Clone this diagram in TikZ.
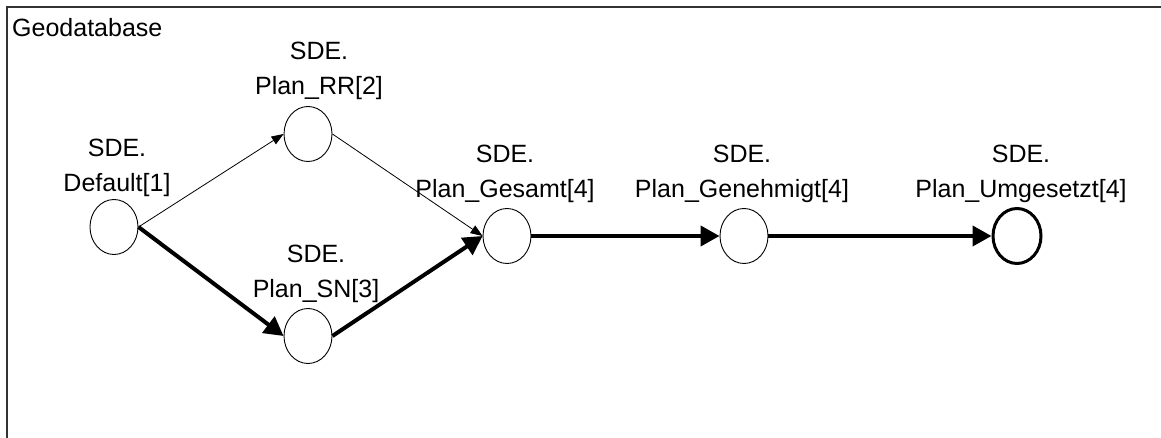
\documentclass[tikz,border=0pt]{standalone}
\usepackage{fontspec}
\setmainfont{Liberation Sans}
\usetikzlibrary{arrows.meta,shapes.geometric}
\begin{document}
\begin{tikzpicture}[x=1pt,y=-1pt,
  every node/.style={font=\fontsize{25}{35}\selectfont},
  version/.style={draw,ellipse,minimum width=48pt,minimum height=55pt,inner sep=0pt,line width=0.9pt},
  final/.style={version,line width=3pt,minimum width=48pt,minimum height=55pt},
  caption/.style={align=center,inner sep=0pt,anchor=base},
  minor/.style={line width=0.8pt,-{Triangle[length=12pt,width=9pt]}},
  major/.style={line width=4pt,-{Triangle[length=19pt,width=20pt]}}]
  \useasboundingbox (0,0) rectangle (1161,438);
  % frame of the geodatabase
  \draw[line width=1.6pt,black!80] (7,438) -- (7,7) -- (1161,7);
  \node[anchor=base west,inner sep=0pt] (gdb) at (12,37) {Geodatabase};
  % versions
  \node[version] (def) at (114,227) {};
  \node[version] (rr)  at (308,134) {};
  \node[version] (sn)  at (308,336) {};
  \node[version] (ges) at (507,236) {};
  \node[version] (gen) at (744,236) {};
  \node[final]   (umg) at (1017,236) {};
  % version names (anchored at the baseline of the second line)
  \node[caption] (tdef) at (117,192) {SDE.\\Default[1]};
  \node[caption] (trr)  at (319,95)  {SDE.\\Plan\_RR[2]};
  \node[caption] (tsn)  at (316,297) {SDE.\\Plan\_SN[3]};
  \node[caption] (tges) at (505,198) {SDE.\\Plan\_Gesamt[4]};
  \node[caption] (tgen) at (742,198) {SDE.\\Plan\_Genehmigt[4]};
  \node[caption] (tumg) at (1021,198) {SDE.\\Plan\_Umgesetzt[4]};
  % reconcile paths
  \draw[minor] (def.east) -- (rr.west);
  \draw[minor] (rr.east) -- (ges.west);
  \draw[major] (def.east) -- (sn.west);
  \draw[major] (sn.east) -- (ges.west);
  \draw[major] (ges.east) -- (gen.west);
  \draw[major] (gen.east) -- (umg.west);
\end{tikzpicture}
\end{document}
